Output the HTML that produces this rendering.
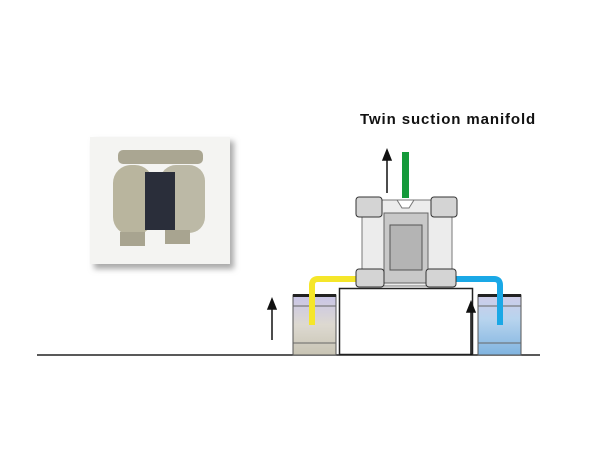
<!DOCTYPE html>
<html><head><style>
body{margin:0;width:600px;height:450px;background:#fff;overflow:hidden;font-family:"Liberation Sans",sans-serif}
</style></head><body>
<div style="position:absolute;left:360px;top:111px;font-weight:bold;font-size:15px;letter-spacing:0.9px;color:#111">Twin suction manifold</div>
<svg width="600" height="450" style="position:absolute;left:0;top:0">
<defs>
<linearGradient id="yb" x1="0" y1="0" x2="0" y2="1"><stop offset="0" stop-color="#c8c4e8"/><stop offset="0.5" stop-color="#ddd9d0"/><stop offset="1" stop-color="#c8c4b4"/></linearGradient>
<linearGradient id="bb" x1="0" y1="0" x2="0" y2="1"><stop offset="0" stop-color="#d0cce8"/><stop offset="0.4" stop-color="#b8d4ee"/><stop offset="1" stop-color="#80b4e0"/></linearGradient>
<filter id="sh"><feGaussianBlur stdDeviation="3"/></filter>
</defs>
<rect x="94" y="141" width="140" height="128" fill="#aaa" filter="url(#sh)"/>
<rect x="90" y="137" width="140" height="127" fill="#f4f4f2"/>
<rect x="113" y="165" width="40" height="70" rx="18" fill="#b9b59e"/>
<rect x="160" y="165" width="45" height="68" rx="16" fill="#bcb9a6"/>
<rect x="145" y="172" width="30" height="58" fill="#2a2e3a"/>
<rect x="118" y="150" width="85" height="14" rx="5" fill="#aaa692"/>
<rect x="120" y="232" width="25" height="14" fill="#a8a490"/>
<rect x="165" y="230" width="25" height="14" fill="#a8a490"/>
<line x1="37" y1="355" x2="540" y2="355" stroke="#222" stroke-width="1.5"/>
<rect x="339.5" y="288.5" width="133" height="66" fill="#fff" stroke="#222" stroke-width="1.5"/>
<rect x="293" y="295" width="43" height="60" fill="url(#yb)" stroke="#555"/>
<rect x="293" y="294" width="43" height="3" fill="#222"/>
<line x1="293" y1="306" x2="336" y2="306" stroke="#666"/><line x1="293" y1="343" x2="336" y2="343" stroke="#666"/>
<rect x="478" y="295" width="43" height="60" fill="url(#bb)" stroke="#555"/>
<rect x="478" y="294" width="43" height="3" fill="#222"/>
<line x1="478" y1="306" x2="521" y2="306" stroke="#666"/><line x1="478" y1="343" x2="521" y2="343" stroke="#666"/>
<path d="M358 279 H318 Q312 279 312 285 V325" fill="none" stroke="#f5e62a" stroke-width="6"/>
<path d="M455 279 H494 Q500 279 500 285 V325" fill="none" stroke="#1aa8e6" stroke-width="6"/>
<rect x="402" y="152" width="7" height="46" fill="#149a3a"/>
<rect x="362" y="200" width="90" height="86" fill="#ececec" stroke="#777"/>
<rect x="384" y="213" width="44" height="70" fill="#c8c8c8" stroke="#666"/>
<rect x="390" y="225" width="32" height="45" fill="#b4b4b4" stroke="#555"/>
<path d="M397 200 L414 200 L409 208 L402 208Z" fill="#fff" stroke="#777"/>
<g fill="#d4d4d4" stroke="#333">
<rect x="356" y="197" width="26" height="20" rx="3"/><rect x="431" y="197" width="26" height="20" rx="3"/>
<rect x="356" y="269" width="28" height="18" rx="3"/><rect x="426" y="269" width="30" height="18" rx="3"/>
</g>
<g stroke="#111" stroke-width="1.5" fill="#111">
<line x1="387" y1="193" x2="387" y2="158"/><path d="M383 160 L387 150 L391 160Z"/>
<line x1="272" y1="340" x2="272" y2="307"/><path d="M268 309 L272 299 L276 309Z"/>
<line x1="471" y1="355" x2="471" y2="310"/><path d="M467 312 L471 302 L475 312Z"/>
</g>
</svg>
</body></html>
